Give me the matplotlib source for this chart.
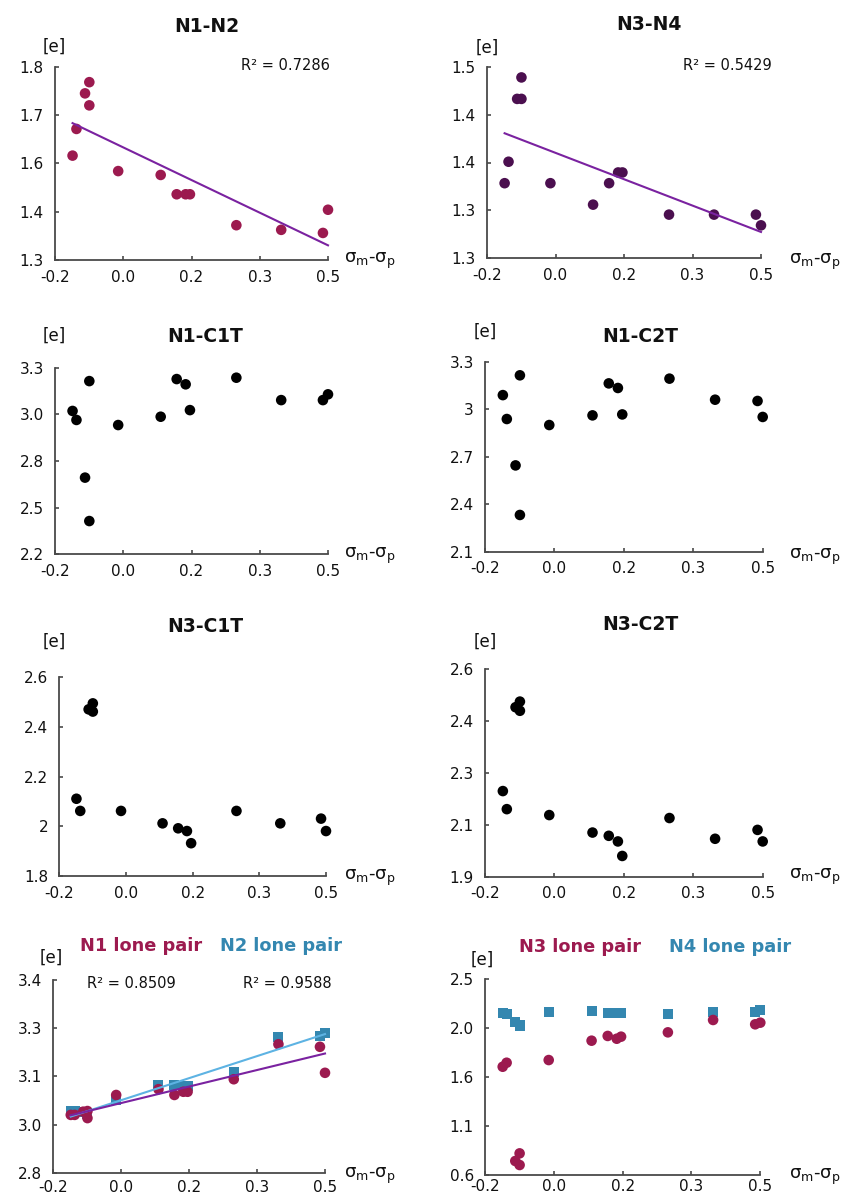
import numpy as np
import matplotlib
matplotlib.use("Agg")
import matplotlib.pyplot as plt

plt.rcParams['font.family'] = ['DejaVu Sans']
plt.rcParams['mathtext.fontset'] = 'dejavusans'

# ---------------- data ----------------
sigma_diff = [-0.155, -0.145, -0.123, -0.112, -0.112, -0.038, 0.071, 0.112,
              0.135, 0.146, 0.265, 0.380, 0.487, 0.500]

n1_n2 = [1.570, 1.639, 1.731, 1.760, 1.700, 1.530, 1.520, 1.470,
         1.470, 1.470, 1.390, 1.378, 1.370, 1.430]
n3_n4 = [1.348, 1.376, 1.458, 1.486, 1.458, 1.348, 1.320, 1.348,
         1.362, 1.362, 1.307, 1.307, 1.307, 1.293]
n1_c1t = [3.045, 2.992, 2.652, 3.221, 2.396, 2.962, 3.011, 3.233,
          3.202, 3.050, 3.241, 3.109, 3.109, 3.143]
n1_c2t = [3.089, 2.938, 2.645, 3.214, 2.332, 2.900, 2.961, 3.163,
          3.134, 2.967, 3.193, 3.060, 3.052, 2.951]
n3_c1t = [2.111, 2.062, 2.471, 2.495, 2.462, 2.062, 2.012, 1.992,
          1.981, 1.932, 2.062, 2.012, 2.031, 1.981]
n3_c2t = [2.189, 2.128, 2.472, 2.491, 2.460, 2.108, 2.049, 2.038,
          2.019, 1.970, 2.098, 2.028, 2.058, 2.019]
n1_lp = [2.980, 2.980, 2.990, 2.992, 2.970, 3.042, 3.060, 3.042,
         3.052, 3.052, 3.091, 3.200, 3.192, 3.111]
n2_lp = [2.992, 2.992, 2.990, 2.986, 2.982, 3.026, 3.073, 3.073,
         3.070, 3.070, 3.114, 3.223, 3.226, 3.235]
n3_lp = [1.651, 1.690, 0.736, 0.810, 0.697, 1.716, 1.904, 1.950,
         1.923, 1.943, 1.985, 2.105, 2.063, 2.079]
n4_lp = [2.176, 2.163, 2.088, 2.056, 2.045, 2.186, 2.195, 2.176,
         2.176, 2.176, 2.163, 2.186, 2.186, 2.202]

r2_labels = {'N1-N2': 'R² = 0.7286', 'N3-N4': 'R² = 0.5429',
             'N1 lp': 'R² = 0.8509', 'N2 lp': 'R² = 0.9588'}

x_range = (-0.2, 0.5)
x_ticklabels = ['-0.2', '0.0', '0.2', '0.3', '0.5']
y_ranges = {
    'N1-N2': (1.3, 1.8), 'N3-N4': (1.25, 1.5),
    'N1-C1T': (2.2, 3.3), 'N1-C2T': (2.1, 3.3),
    'N3-C1T': (1.8, 2.6), 'N3-C2T': (1.9, 2.6),
    'LP12': (2.8, 3.4), 'LP34': (0.6, 2.5),
}
y_ticklabels = {
    'N1-N2': ['1.3', '1.4', '1.6', '1.7', '1.8'],
    'N3-N4': ['1.3', '1.3', '1.4', '1.4', '1.5'],
    'N1-C1T': ['2.2', '2.5', '2.8', '3.0', '3.3'],
    'N1-C2T': ['2.1', '2.4', '2.7', '3', '3.3'],
    'N3-C1T': ['1.8', '2', '2.2', '2.4', '2.6'],
    'N3-C2T': ['1.9', '2.1', '2.3', '2.4', '2.6'],
    'LP12': ['2.8', '3.0', '3.1', '3.3', '3.4'],
    'LP34': ['0.6', '1.1', '1.6', '2.0', '2.5'],
}

# ---------------- style ----------------
W, H = 844, 1197
MAROON = '#9c1a4f'
PURPLE_DOT = '#4b0f4f'
BLUE_SQ = '#3487b0'
LINE_PURPLE = '#7a22a0'
LINE_BLUE = '#5db3e3'
SPINE = '#4a4a4a'
TXT = '#111111'

fig = plt.figure(figsize=(W / 100, H / 100), dpi=100)


def px_axes(l, r, t, b):
    return fig.add_axes([l / W, 1 - b / H, (r - l) / W, (b - t) / H])


def ftext(px, py, s, **kw):
    fig.text(px / W, 1 - py / H, s, **kw)


def style(ax, key, xpad):
    ax.set_xlim(*x_range)
    ax.set_ylim(*y_ranges[key])
    ax.set_xticks(np.linspace(x_range[0], x_range[1], 5))
    ax.set_xticklabels(x_ticklabels)
    y0, y1 = y_ranges[key]
    ax.set_yticks(np.linspace(y0, y1, 5))
    ax.set_yticklabels(y_ticklabels[key])
    for s in ['top', 'right']:
        ax.spines[s].set_visible(False)
    for s in ['left', 'bottom']:
        ax.spines[s].set_color(SPINE)
        ax.spines[s].set_linewidth(1.3)
    ax.tick_params(direction='in', length=3, width=1.2, color=SPINE,
                   labelsize=11, labelcolor=TXT)
    ax.tick_params(axis='x', pad=xpad)
    ax.tick_params(axis='y', pad=8)
    ax.set_facecolor('none')


XLABEL = r'$\mathrm{σ_m}$-$\mathrm{σ_p}$'
MS = 58

panels = [
    # key, l, r, t, b, title, title_xy, e_xy, xlabel_xy, xpad
    ('N1-N2', 55, 328, 66.7, 260, 'N1-N2', (207, 26), (43, 47), (344, 261), 7),
    ('N3-N4', 487, 761, 66.7, 258.3, 'N3-N4', (649, 25), (476, 48), (789, 262), 7),
    ('N1-C1T', 55, 328, 367.7, 554.3, 'N1-C1T', (205, 337), (43, 336), (344, 556), 7),
    ('N1-C2T', 485, 762.7, 361.7, 551.7, 'N1-C2T', (640, 337), (474, 332), (789, 557), 7),
    ('N3-C1T', 59.3, 326, 677.3, 876, 'N3-C1T', (205, 626), (43, 642), (344, 878), 7),
    ('N3-C2T', 485, 762.7, 669.3, 876.7, 'N3-C2T', (640, 625), (474, 642), (789, 877), 7),
    ('LP12', 53.3, 325, 980, 1172.7, None, None, (40, 958), (344, 1176), 5),
    ('LP34', 485, 760.3, 979.3, 1175, None, None, (471, 960), (789, 1177), 3),
]

axes = {}
for key, l, r, t, b, title, txy, exy, xlxy, xpad in panels:
    ax = px_axes(l, r, t, b)
    style(ax, key, xpad)
    axes[key] = ax
    if title:
        ftext(*txy, title, ha='center', va='center', fontsize=13.5,
              fontweight='bold', color=TXT)
    ftext(*exy, '[e]', ha='left', va='center', fontsize=12, color=TXT)
    ftext(*xlxy, XLABEL, ha='left', va='center', fontsize=13, color=TXT)

x = np.array(sigma_diff)


def fit_line(ax, xv, yv, color):
    m, c = np.polyfit(xv, yv, 1)
    xx = np.array([xv.min(), xv.max()])
    ax.plot(xx, m * xx + c, color=color, lw=1.5, zorder=3, clip_on=False)


def dots(ax, yv, color, marker='o', s=MS):
    ax.scatter(x, yv, s=s, marker=marker, color=color, edgecolors='none',
               zorder=2, clip_on=False)


# N1-N2
ax = axes['N1-N2']
dots(ax, n1_n2, MAROON)
fit_line(ax, x, np.array(n1_n2), LINE_PURPLE)
ftext(330, 66, r2_labels['N1-N2'], ha='right', va='center', fontsize=10.5, color=TXT)

# N3-N4
ax = axes['N3-N4']
dots(ax, n3_n4, PURPLE_DOT)
fit_line(ax, x, np.array(n3_n4), LINE_PURPLE)
ftext(772, 65, r2_labels['N3-N4'], ha='right', va='center', fontsize=10.5, color=TXT)

for key, vals in [('N1-C1T', n1_c1t), ('N1-C2T', n1_c2t),
                  ('N3-C1T', n3_c1t), ('N3-C2T', n3_c2t)]:
    dots(axes[key], vals, 'black')

# Lone pairs N1 / N2
ax = axes['LP12']
dots(ax, n2_lp, BLUE_SQ, marker='s', s=52)
dots(ax, n1_lp, MAROON)
fit_line(ax, x, np.array(n2_lp), LINE_BLUE)
fit_line(ax, x, np.array(n1_lp), LINE_PURPLE)
ftext(80, 946, 'N1 lone pair', ha='left', va='center', fontsize=12.8,
      fontweight='bold', color=MAROON)
ftext(220, 946, 'N2 lone pair', ha='left', va='center', fontsize=12.8,
      fontweight='bold', color=BLUE_SQ)
ftext(87, 983, r2_labels['N1 lp'], ha='left', va='center', fontsize=10.5, color=TXT)
ftext(243, 983, r2_labels['N2 lp'], ha='left', va='center', fontsize=10.5, color=TXT)

# Lone pairs N3 / N4
ax = axes['LP34']
dots(ax, n4_lp, BLUE_SQ, marker='s', s=52)
dots(ax, n3_lp, MAROON)
ftext(519, 947, 'N3 lone pair', ha='left', va='center', fontsize=12.8,
      fontweight='bold', color=MAROON)
ftext(669, 947, 'N4 lone pair', ha='left', va='center', fontsize=12.8,
      fontweight='bold', color=BLUE_SQ)

fig.savefig('out.png', dpi=100)
